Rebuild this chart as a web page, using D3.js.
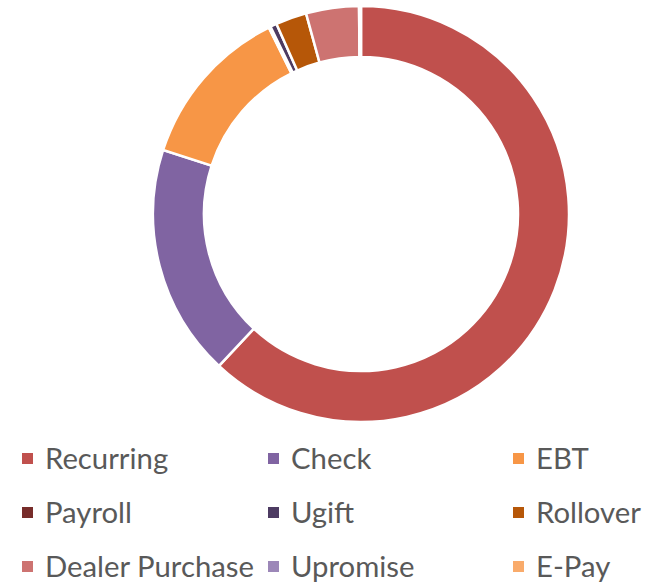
<!DOCTYPE html>
<html><head><meta charset="utf-8">
<script src="https://cdn.jsdelivr.net/npm/d3@7"></script>
<style>body{margin:0;background:#fff}</style>
</head><body>
<script>
const categories = ["Recurring","Check","EBT","Payroll","Ugift","Rollover","Dealer Purchase","Upromise","E-Pay"];
const values = [61.9, 18.0, 12.7, 0.15, 0.5, 2.4, 4.1, 0.05, 0.1];
const colors = ["#C0504D","#8064A2","#F79646","#772C2A","#4D3B62","#B65708","#CD7371","#9C87B8","#F9AB6B"];

const W = 658, H = 582;
const cx = 361, cy = 214, rOuter = 208, rInner = 157;
const svg = d3.select("body").append("svg").attr("width", W).attr("height", H);

const pie = d3.pie().sort(null).value(d => d.v);
const arc = d3.arc().innerRadius(rInner).outerRadius(rOuter);
const data = categories.map((c,i)=>({c, v: values[i], col: colors[i]}));

svg.append("g").attr("transform", `translate(${cx},${cy})`)
  .selectAll("path").data(pie(data)).join("path")
  .attr("d", arc).attr("fill", d => d.data.col)
  .attr("stroke", "#fff").attr("stroke-width", 2.5);

const colX = [22, 268, 513];
const rowY = [458, 512, 566];
const leg = svg.append("g");
const texts = [];
data.forEach((d,i) => {
  const x = colX[i % 3], y = rowY[Math.floor(i / 3)];
  leg.append("rect").attr("x", x).attr("y", y - 5).attr("width", 11).attr("height", 11).attr("fill", d.col);
  texts.push(leg.append("text").attr("x", x + 23).attr("y", y).attr("dy", "0.36em")
    .attr("font-family", "Lato, sans-serif").attr("font-size", 27)
    .attr("fill", "#595959").text(d.c));
});
// fit font size so "Dealer Purchase" matches reference width (~209px)
const w = texts[6].node().getComputedTextLength();
const fs = 27 * 209 / w;
texts.forEach(t => t.attr("font-size", fs));
</script>
</body></html>
